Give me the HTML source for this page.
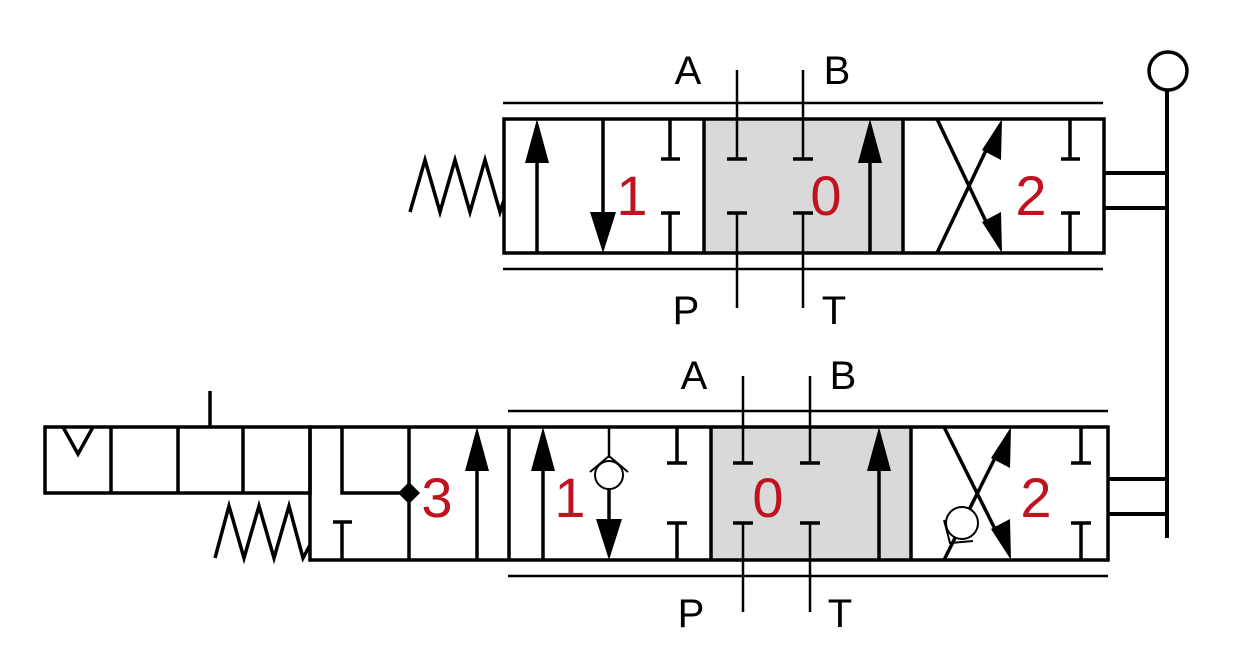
<!DOCTYPE html>
<html><head><style>
html,body{margin:0;padding:0;background:#fff;}
svg{display:block}
text{font-family:"Liberation Sans",sans-serif;}
</style></head><body>
<svg width="1240" height="670" viewBox="0 0 1240 670" xmlns="http://www.w3.org/2000/svg">
<g stroke="#000" fill="none" stroke-width="3.5">
<rect x="704" y="119" width="199" height="134" fill="#d9d9d9" stroke="none"/>
<rect x="504" y="119" width="600" height="134"/>
<line x1="704" y1="119" x2="704" y2="253"/>
<line x1="903" y1="119" x2="903" y2="253"/>
<line x1="503" y1="103" x2="1103" y2="103" stroke-width="2.5"/>
<line x1="503" y1="269" x2="1103" y2="269" stroke-width="2.5"/>
<line x1="737" y1="70" x2="737" y2="159" stroke-width="2.5"/>
<line x1="803" y1="70" x2="803" y2="159" stroke-width="2.5"/>
<line x1="737" y1="213" x2="737" y2="308" stroke-width="2.5"/>
<line x1="803" y1="213" x2="803" y2="308" stroke-width="2.5"/>
<line x1="727" y1="159" x2="747" y2="159"/><line x1="793" y1="159" x2="813" y2="159"/>
<line x1="727" y1="213" x2="747" y2="213"/><line x1="793" y1="213" x2="813" y2="213"/>
<line x1="537" y1="253" x2="537" y2="150"/>
<polygon points="537,119 525,163 549,163" fill="#000" stroke="none"/>
<line x1="603" y1="119" x2="603" y2="220"/>
<polygon points="603,253 590,212 616,212" fill="#000" stroke="none"/>
<line x1="670" y1="119" x2="670" y2="159"/><line x1="661" y1="159" x2="680" y2="159"/>
<line x1="670" y1="213" x2="670" y2="253"/><line x1="661" y1="213" x2="680" y2="213"/>
<line x1="870" y1="253" x2="870" y2="150"/>
<polygon points="870,119 858,163 882,163" fill="#000" stroke="none"/>
<line x1="937" y1="119" x2="990" y2="230"/>
<polygon points="1002,253 982,222 1001,212" fill="#000" stroke="none"/>
<line x1="937" y1="253" x2="990" y2="142"/>
<polygon points="1002,119 982,150 1001,160" fill="#000" stroke="none"/>
<line x1="1070" y1="119" x2="1070" y2="159"/><line x1="1061" y1="159" x2="1080" y2="159"/>
<line x1="1070" y1="213" x2="1070" y2="253"/><line x1="1061" y1="213" x2="1080" y2="213"/>
<polyline points="410,212 425,160 440,212 455,160 470,212 485,160 500,212 504,200"/>
<line x1="1104" y1="173" x2="1167" y2="173" stroke-width="4"/>
<line x1="1104" y1="208" x2="1167" y2="208" stroke-width="4"/>
<line x1="1167" y1="90" x2="1167" y2="538" stroke-width="4"/>
<circle cx="1168" cy="71" r="19"/>

<rect x="711" y="427" width="200" height="133" fill="#d9d9d9" stroke="none"/>
<rect x="310" y="427" width="798" height="133"/>
<line x1="509" y1="427" x2="509" y2="560"/>
<line x1="711" y1="427" x2="711" y2="560"/>
<line x1="911" y1="427" x2="911" y2="560"/>
<line x1="508" y1="411" x2="1108" y2="411" stroke-width="2.5"/>
<line x1="508" y1="576" x2="1108" y2="576" stroke-width="2.5"/>
<line x1="743" y1="376" x2="743" y2="463" stroke-width="2.5"/>
<line x1="810" y1="376" x2="810" y2="463" stroke-width="2.5"/>
<line x1="743" y1="523" x2="743" y2="612" stroke-width="2.5"/>
<line x1="810" y1="523" x2="810" y2="612" stroke-width="2.5"/>
<line x1="733" y1="463" x2="753" y2="463"/><line x1="800" y1="463" x2="820" y2="463"/>
<line x1="733" y1="523" x2="753" y2="523"/><line x1="800" y1="523" x2="820" y2="523"/>
<polyline points="342,427 342,493 409,493"/>
<line x1="409" y1="427" x2="409" y2="560"/>
<polygon points="409,482 420,493 409,504 398,493" fill="#000" stroke="none"/>
<line x1="342" y1="522" x2="342" y2="560"/><line x1="333" y1="522" x2="352" y2="522"/>
<line x1="477" y1="560" x2="477" y2="460"/>
<polygon points="477,427 465,471 489,471" fill="#000" stroke="none"/>
<line x1="543" y1="560" x2="543" y2="460"/>
<polygon points="543,427 531,471 555,471" fill="#000" stroke="none"/>
<line x1="609" y1="427" x2="609" y2="458" stroke-width="2.5"/>
<circle cx="609" cy="475" r="14" stroke-width="2"/>
<polyline points="590,472 609,456 628,472" stroke-width="2"/>
<line x1="609" y1="489" x2="609" y2="525"/>
<polygon points="609,560 596,519 622,519" fill="#000" stroke="none"/>
<line x1="677" y1="427" x2="677" y2="463"/><line x1="667" y1="463" x2="687" y2="463"/>
<line x1="677" y1="523" x2="677" y2="560"/><line x1="667" y1="523" x2="687" y2="523"/>
<line x1="879" y1="560" x2="879" y2="460"/>
<polygon points="879,427 867,471 891,471" fill="#000" stroke="none"/>
<line x1="944" y1="427" x2="998" y2="535"/>
<polygon points="1011,560 991,529 1010,519" fill="#000" stroke="none"/>
<line x1="944" y1="560" x2="998" y2="452"/>
<polygon points="1011,427 991,458 1010,468" fill="#000" stroke="none"/>
<circle cx="962" cy="523" r="16" fill="#fff" stroke-width="2"/>
<polyline points="944,520 950,543 973,541" stroke-width="2"/>
<line x1="1081" y1="427" x2="1081" y2="463"/><line x1="1071" y1="463" x2="1091" y2="463"/>
<line x1="1081" y1="523" x2="1081" y2="560"/><line x1="1071" y1="523" x2="1091" y2="523"/>
<rect x="45" y="427" width="265" height="66"/>
<line x1="111" y1="427" x2="111" y2="493"/>
<line x1="178" y1="427" x2="178" y2="493"/>
<line x1="243" y1="427" x2="243" y2="493"/>
<polyline points="63,427 78,454 93,427"/>
<line x1="210" y1="391" x2="210" y2="427"/>
<polyline points="215,558 229,506 244,558 259,506 274,558 289,506 303,558 310,545"/>
<line x1="1108" y1="479" x2="1167" y2="479" stroke-width="4"/>
<line x1="1108" y1="514" x2="1167" y2="514" stroke-width="4"/>
</g>
<g font-size="40" fill="#000" text-anchor="middle">
<text x="688" y="84">A</text><text x="837" y="84">B</text>
<text x="686" y="324">P</text><text x="834" y="324">T</text>
<text x="694" y="389">A</text><text x="843" y="389">B</text>
<text x="691" y="627">P</text><text x="840" y="627">T</text>
</g>
<g font-size="56" fill="#c0121f" text-anchor="middle">
<text x="632" y="215">1</text><text x="826" y="215">0</text><text x="1031" y="215">2</text>
<text x="437" y="517">3</text><text x="570" y="517">1</text><text x="768" y="517">0</text><text x="1036" y="517">2</text>
</g>
</svg>
</body></html>
